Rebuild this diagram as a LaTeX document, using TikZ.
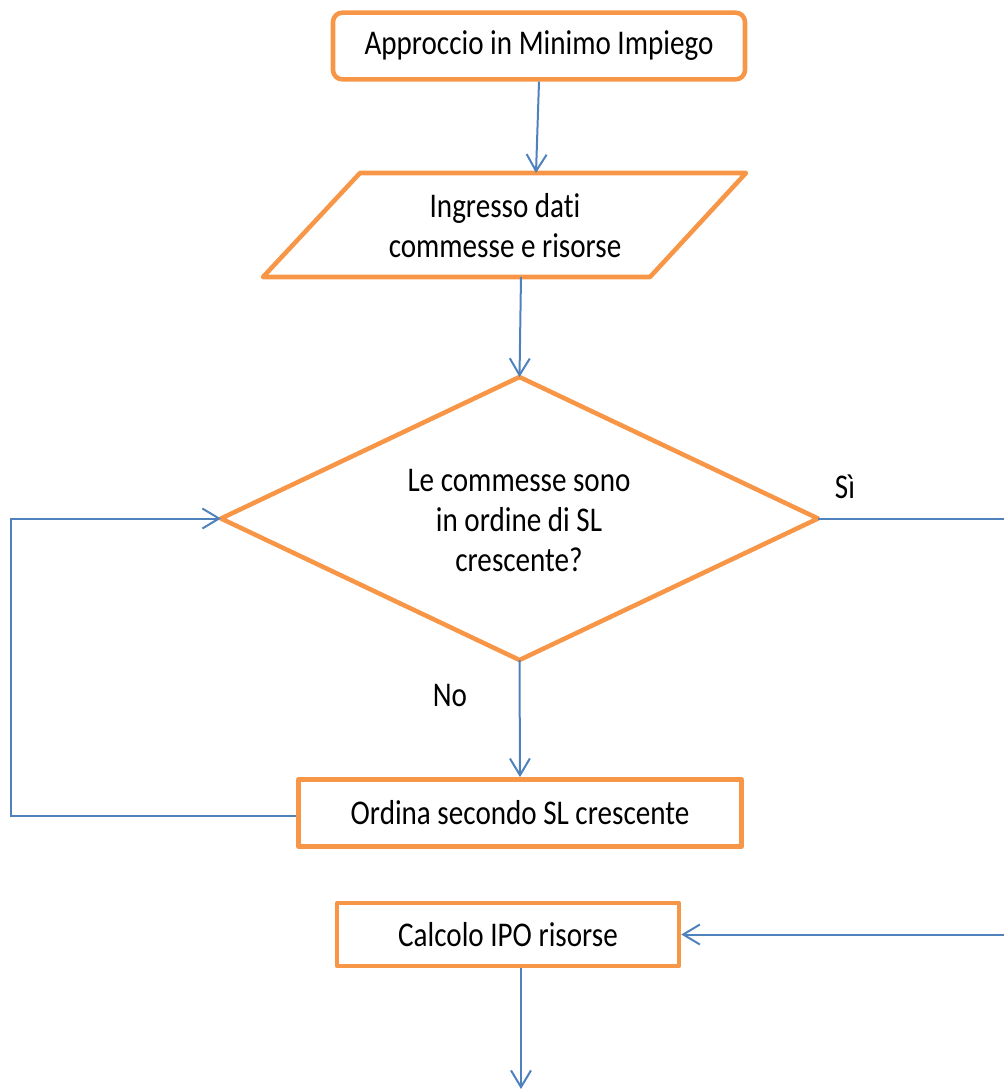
\documentclass[tikz,border=0pt]{standalone}
\usepackage{fontspec}
\setmainfont{Carlito}[FakeStretch=0.84,Ligatures={NoCommon}]
\usetikzlibrary{arrows.meta,shapes.geometric}
\definecolor{flowor}{HTML}{F79646}
\definecolor{flowbl}{HTML}{4F81BD}
\begin{document}
\begin{tikzpicture}[x=0.75pt,y=-0.75pt,
  shapeline/.style={draw=flowor, line width=3.4pt, line join=round},
  txt/.style={font=\fontsize{26}{30}\selectfont, align=center, inner sep=0pt},
  procbox/.style={shapeline, rectangle, txt},
  conn/.style={draw=flowbl, line width=1.5pt},
  arr/.style={conn, -{Straight Barb[length=12.5pt,width=15pt,line width=1.5pt]}}
]
\useasboundingbox (0,0) rectangle (1004,1090);

% start box
\node[procbox, rounded corners=7pt, minimum width=309pt, minimum height=50pt]
  (start) at (539,46) {Approccio in Minimo Impiego};

% input parallelogram
\coordinate (pTL) at (360,173);
\coordinate (pTR) at (746,173);
\coordinate (pBR) at (650,277);
\coordinate (pBL) at (263,277);
\draw[shapeline] (pTL) -- (pTR) -- (pBR) -- (pBL) -- cycle;
\node[txt] (inp) at (505,226) {Ingresso dati\\commesse e risorse};
\coordinate (pin) at (536,173);
\coordinate (pout) at (521,277);

% decision
\node[shapeline, diamond, inner sep=0pt, outer sep=0pt,
      minimum width=447.75pt, minimum height=212.25pt] (dec) at (519.5,518.5) {};
\node[txt] (dectext) at (519,520) {Le commesse sono\\in ordine di SL\\crescente?};

% sort box
\node[procbox, minimum width=332pt, minimum height=50.5pt] (ord) at (520,813)
  {Ordina secondo SL crescente};

% IPO box
\node[procbox, minimum width=256.5pt, minimum height=47pt] (calc) at (508,934.5)
  {Calcolo IPO risorse};
\coordinate (endpt) at (521,1089);

% branch labels
\node[txt] (si) at (845,487) {Sì};
\node[txt] (no) at (450,695) {No};

% connectors
\draw[arr] (start.south) -- (pin);
\draw[arr] (pout) -- (dec.north);
\draw[arr] (dec.south) -- (ord.north);
\draw[arr] ([yshift=-2.25pt]ord.west) -- ++(-285,0) |- (dec.west);
\draw[arr] (dec.east) -- ++(230,0) |- (calc.east);
\draw[arr] (calc.south -| endpt) -- (endpt);
\end{tikzpicture}
\end{document}
